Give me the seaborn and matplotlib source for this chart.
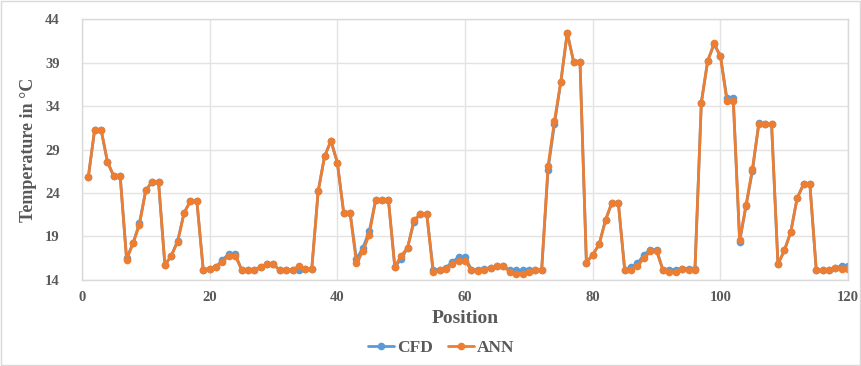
import numpy as np
import pandas as pd
import seaborn as sns
import matplotlib.pyplot as plt
from matplotlib.patches import Rectangle

# positions along the channel
position = list(range(1, 121))

cfd = [25.8, 31.3, 31.3, 27.6, 25.9, 25.9, 16.5, 18.2, 20.5, 24.3,
       25.3, 25.3, 15.7, 16.8, 18.5, 21.7, 23.1, 23.1, 15.2, 15.3,
       15.5, 16.3, 17.0, 17.0, 15.2, 15.2, 15.2, 15.5, 15.8, 15.8,
       15.1, 15.1, 15.1, 15.2, 15.3, 15.3, 24.2, 28.2, 30.0, 27.5,
       21.7, 21.7, 16.4, 17.7, 19.6, 23.2, 23.2, 23.2, 15.5, 16.4,
       17.7, 20.7, 21.6, 21.6, 15.2, 15.2, 15.4, 16.1, 16.6, 16.6,
       15.2, 15.2, 15.3, 15.4, 15.6, 15.6, 15.1, 15.1, 15.1, 15.2,
       15.2, 15.2, 26.7, 31.9, 36.8, 42.4, 39.1, 39.1, 16.0, 16.9,
       18.1, 20.9, 22.9, 22.9, 15.2, 15.5, 15.9, 16.9, 17.5, 17.5,
       15.1, 15.2, 15.2, 15.3, 15.3, 15.3, 34.4, 39.2, 41.1, 39.7,
       34.9, 34.9, 18.4, 22.5, 26.5, 32.0, 31.9, 31.9, 15.8, 17.4,
       19.5, 23.4, 25.0, 25.0, 15.1, 15.1, 15.2, 15.4, 15.6, 15.6]

ann = [25.8, 31.3, 31.3, 27.6, 25.9, 25.9, 16.3, 18.2, 20.3, 24.3,
       25.3, 25.3, 15.7, 16.8, 18.4, 21.7, 23.1, 23.1, 15.2, 15.3,
       15.5, 16.1, 16.8, 16.8, 15.2, 15.2, 15.2, 15.5, 15.8, 15.8,
       15.1, 15.1, 15.2, 15.6, 15.3, 15.3, 24.2, 28.2, 30.0, 27.5,
       21.7, 21.7, 15.9, 17.3, 19.2, 23.2, 23.2, 23.2, 15.5, 16.8,
       17.7, 20.9, 21.6, 21.6, 14.9, 15.1, 15.3, 15.8, 16.2, 16.2,
       15.1, 15.0, 15.1, 15.4, 15.6, 15.6, 14.9, 14.7, 14.7, 14.9,
       15.2, 15.2, 27.1, 32.3, 36.8, 42.4, 39.1, 39.1, 16.0, 16.9,
       18.1, 20.9, 22.9, 22.9, 15.1, 15.2, 15.6, 16.5, 17.3, 17.3,
       15.1, 14.9, 14.9, 15.3, 15.1, 15.1, 34.4, 39.2, 41.2, 39.7,
       34.6, 34.6, 18.6, 22.6, 26.8, 31.9, 31.9, 31.9, 15.8, 17.4,
       19.5, 23.4, 25.0, 25.0, 15.1, 15.1, 15.2, 15.4, 15.3, 15.3]

x_ticks = [0, 20, 40, 60, 80, 100, 120]
y_ticks = [14, 19, 24, 29, 34, 39, 44]

df = pd.DataFrame({"Position": position, "CFD": cfd, "ANN": ann})

sns.set_style("white")
plt.rcParams['font.family'] = ['Liberation Serif', 'DejaVu Serif']

fig = plt.figure(figsize=(8.62, 3.66), dpi=100)
ax = fig.add_axes([0.095, 0.235, 0.889, 0.713])

sns.lineplot(data=df, x="Position", y="CFD", ax=ax, color="#5B9BD5", marker="o",
             markersize=5.5, markeredgewidth=0, linewidth=2, label="CFD", legend=False)
sns.lineplot(data=df, x="Position", y="ANN", ax=ax, color="#ED7D31", marker="o",
             markersize=5.5, markeredgewidth=0, linewidth=2, label="ANN", legend=False)

ax.set_xlim(0, 120)
ax.set_ylim(14, 44)
ax.set_xticks(x_ticks)
ax.set_yticks(y_ticks)
ax.grid(True, color="#E3E3E3", linewidth=1)
ax.set_axisbelow(True)
for s in ax.spines.values():
    s.set_color("#D9D9D9")
    s.set_linewidth(1)
ax.tick_params(axis="both", length=0, labelsize=10.5, labelcolor="#595959")
ax.tick_params(axis="y", pad=16)
ax.tick_params(axis="x", pad=8)
for lab in ax.get_xticklabels() + ax.get_yticklabels():
    lab.set_fontweight("bold")

ax.set_xlabel("Position", fontsize=14, fontweight="bold", color="#595959", labelpad=4)
ax.set_ylabel("Temperature in °C", fontsize=13, fontweight="bold", color="#595959", labelpad=6)

handles, labels = ax.get_legend_handles_labels()
leg = fig.legend(handles, labels, loc="center", bbox_to_anchor=(0.512, 0.05), ncol=2,
                 frameon=False, prop={"size": 12.5, "weight": "bold"}, handlelength=1.5,
                 columnspacing=0.9, handletextpad=0.15)
for t in leg.get_texts():
    t.set_color("#595959")

# thin frame round the whole figure
fig.patches.append(Rectangle((0.001, 0.003), 0.997, 0.994, transform=fig.transFigure,
                             fill=False, edgecolor="#D9D9D9", linewidth=1))

fig.savefig("out.png", dpi=100)
